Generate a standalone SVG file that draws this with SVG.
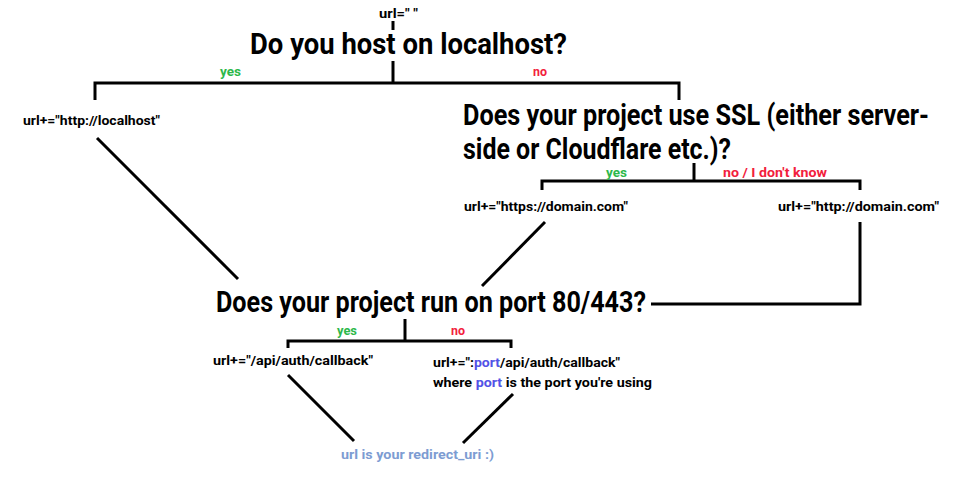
<svg xmlns="http://www.w3.org/2000/svg" width="978" height="498" viewBox="0 0 978 498">
<style>
.t{font-family:Roboto,"DejaVu Sans",sans-serif;font-weight:700;fill:#000}
.q{font-size:30px}
.s{font-size:13.5px}
.yes{fill:#2db84b}
.no{fill:#f2203c}
.p{fill:#5252e6}
.end{fill:#7d9cd2}
.c path{stroke:#000;stroke-width:3;fill:none;stroke-linejoin:miter;stroke-linecap:butt}
</style>
<rect width="978" height="498" fill="#fff"/>
<g class="c" id="connectors">
<path d="M393 21 V30"/>
<path d="M393 61 V83"/>
<path d="M95 100 V83 H679 V100"/>
<path d="M97 138 L238 279"/>
<path d="M694 163 V181"/>
<path d="M542 190 V181 H860 V190"/>
<path d="M545 222 L482 286"/>
<path d="M860 222 V304 H651"/>
<path d="M405 319 V341"/>
<path d="M288 348 V341 H511 V348"/>
<path d="M288 375 L354 441"/>
<path d="M513 394 L463 443"/>
</g>
<g id="start"><text class="t s" x="379" y="18" textLength="39" lengthAdjust="spacingAndGlyphs">url=" "</text></g>
<g id="q1">
<text class="t q" x="250" y="54" textLength="317" lengthAdjust="spacingAndGlyphs">Do you host on localhost?</text>
<text class="t s yes" x="220" y="76" textLength="21" lengthAdjust="spacingAndGlyphs">yes</text>
<text class="t s no" x="533" y="76" textLength="14" lengthAdjust="spacingAndGlyphs">no</text>
</g>
<g id="localhost"><text class="t s" x="23" y="125" textLength="137" lengthAdjust="spacingAndGlyphs">url+="http://localhost"</text></g>
<g id="q2">
<text class="t q" x="463" y="125" textLength="466" lengthAdjust="spacingAndGlyphs">Does your project use SSL (either server-</text>
<text class="t q" x="463" y="159" textLength="268" lengthAdjust="spacingAndGlyphs">side or Cloudflare etc.)?</text>
<text class="t s yes" x="606" y="177" textLength="21" lengthAdjust="spacingAndGlyphs">yes</text>
<text class="t s no" x="723" y="177" textLength="104" lengthAdjust="spacingAndGlyphs">no / I don't know</text>
</g>
<g id="https"><text class="t s" x="464" y="211" textLength="164" lengthAdjust="spacingAndGlyphs">url+="https://domain.com"</text></g>
<g id="http"><text class="t s" x="778" y="211" textLength="161" lengthAdjust="spacingAndGlyphs">url+="http://domain.com"</text></g>
<g id="q3">
<text class="t q" x="216" y="312" textLength="430" lengthAdjust="spacingAndGlyphs">Does your project run on port 80/443?</text>
<text class="t s yes" x="337" y="335" textLength="20" lengthAdjust="spacingAndGlyphs">yes</text>
<text class="t s no" x="451" y="335" textLength="14" lengthAdjust="spacingAndGlyphs">no</text>
</g>
<g id="callback"><text class="t s" x="213" y="365" textLength="160" lengthAdjust="spacingAndGlyphs">url+="/api/auth/callback"</text></g>
<g id="port">
<text class="t s" x="433" y="367" textLength="187" lengthAdjust="spacingAndGlyphs">url+=":<tspan class="p">port</tspan>/api/auth/callback"</text>
<text class="t s" x="433" y="387" textLength="219" lengthAdjust="spacingAndGlyphs">where <tspan class="p">port</tspan> is the port you're using</text>
</g>
<g id="end"><text class="t s end" x="341" y="459" textLength="153" lengthAdjust="spacingAndGlyphs">url is your redirect_uri :)</text></g>
</svg>
